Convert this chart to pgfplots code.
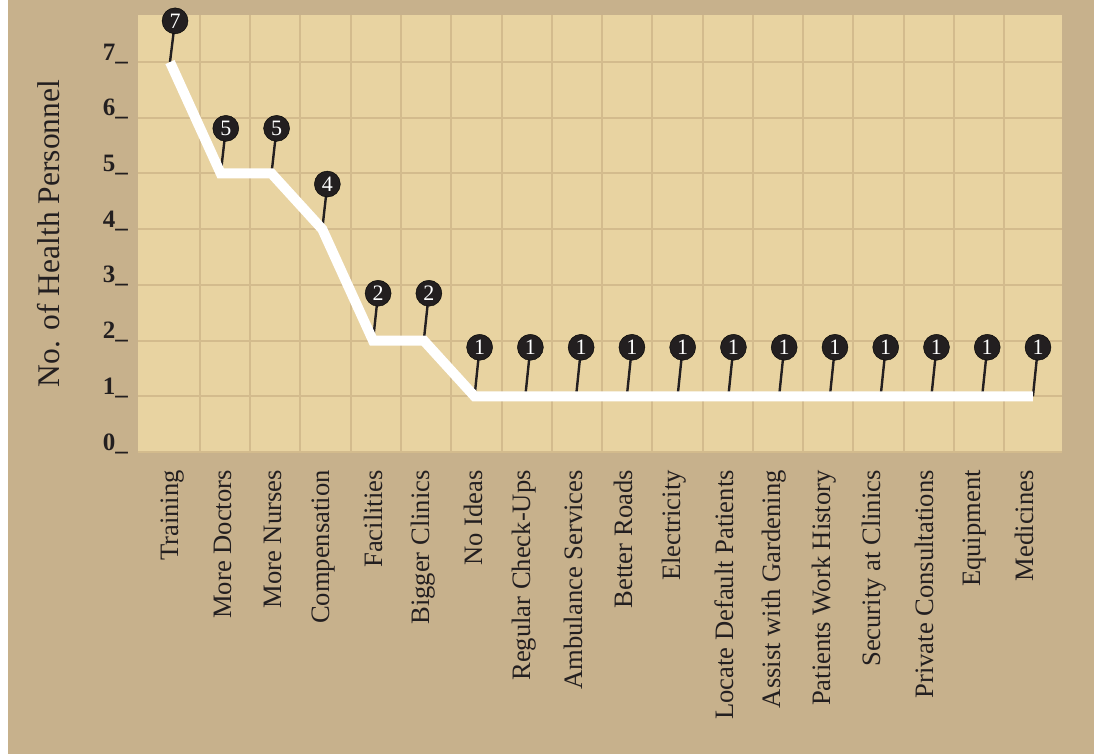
\documentclass[border=0pt]{standalone}
\usepackage{pgfplots}
\pgfplotsset{compat=1.18}
\usepackage{pgfplotstable}
\usepackage{fontspec}
\setmainfont{Liberation Serif}
\definecolor{bgtan}{HTML}{C7B18C}
\definecolor{plotbg}{HTML}{E8D3A1}
\definecolor{gridcol}{HTML}{D3BB8D}
\definecolor{pincol}{HTML}{231F20}
\pgfplotstableread{
x y ph v
0 7 0.74 7
1 5 0.81 5
2 5 0.81 5
3 4 0.81 4
4 2 0.85 2
5 2 0.85 2
6 1 0.88 1
7 1 0.88 1
8 1 0.88 1
9 1 0.88 1
10 1 0.88 1
11 1 0.88 1
12 1 0.88 1
13 1 0.88 1
14 1 0.88 1
15 1 0.88 1
16 1 0.88 1
17 1 0.88 1
}\datatable
\begin{document}
\begin{tikzpicture}
\fill[white] (0,0) rectangle (1094pt,-754pt);
\fill[bgtan] (8pt,0) rectangle (1094pt,-754pt);
\path[use as bounding box] (0,0) rectangle (1094pt,-754pt);
\begin{axis}[
  at={(138pt,-452pt)}, anchor=south west,
  scale only axis, width=924pt, height=437pt,
  xmin=-0.630, xmax=17.573, ymin=0, ymax=7.845,
  clip=false,
  axis background/.style={fill=plotbg},
  axis line style={draw=none},
  major tick length=0pt, minor tick length=0pt,
  ytick={0,1,2,3,4,5,6,7},
  yticklabels={0\_,1\_,2\_,3\_,4\_,5\_,6\_,7\_},
  yticklabel style={anchor=base east, inner sep=0pt, yshift=2pt, font=\fontsize{25}{30}\selectfont\bfseries, text=pincol},
  yticklabel shift=10pt,
  xtick={0.059,1.046,2.033,3.020,4.007,4.994,5.981,6.968,7.955,8.942,9.929,10.916,11.903,12.890,13.877,14.864,15.851,16.838},
  xticklabels={Training,More Doctors,More Nurses,Compensation,Facilities,Bigger Clinics,No Ideas,Regular Check-Ups,Ambulance Services,Better Roads,Electricity,Locate Default Patients,Assist with Gardening,Patients Work History,Security at Clinics,Private Consultations,Equipment,Medicines},
  xticklabel style={rotate=90, anchor=east, inner sep=0pt, font=\fontsize{26.6}{30}\selectfont, text=pincol},
  xticklabel shift=18pt,
  minor xtick={0.591,1.581,2.571,3.561,4.551,5.541,6.531,7.521,8.511,9.501,10.491,11.481,12.471,13.461,14.451,15.441,16.431},
  xminorgrids=true, xmajorgrids=false, ymajorgrids=true,
  major grid style={gridcol, line width=2pt},
  minor grid style={gridcol, line width=2pt},
  ylabel={No. of Health Personnel},
  every axis y label/.style={at={(axis description cs:-0.0963,0.5)}, rotate=90, anchor=center, font=\fontsize{31.5}{36}\selectfont, text=pincol},
]
\addplot[pincol, line width=2.4pt, no markers, quiver={u=0.1, v=\thisrow{ph}}] table[x=x,y=y]{\datatable};
\addplot[white, line width=10pt, line join=miter, line cap=butt, mark=none] table[x=x,y=y]{\datatable};
\addplot[only marks, mark=*, mark size=13pt, mark options={draw=none, fill=pincol},
  point meta=explicit symbolic, nodes near coords,
  every node near coord/.append style={anchor=center, text=white, inner sep=0pt, font=\fontsize{22}{22}\selectfont}]
  table[x expr=\thisrow{x}+0.1, y expr=\thisrow{y}+\thisrow{ph}, meta=v]{\datatable};
\end{axis}
\end{tikzpicture}
\end{document}
